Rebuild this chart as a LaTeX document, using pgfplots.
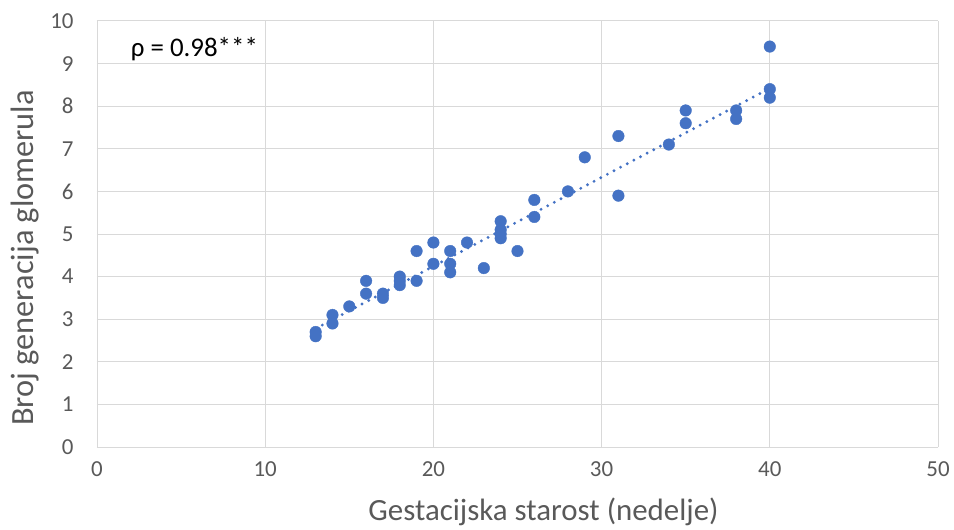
\documentclass[border=0pt]{standalone}
\usepackage{pgfplots}
\pgfplotsset{compat=1.18}
\usepackage{fontspec}
\setmainfont{Carlito}
\definecolor{ptblue}{RGB}{68,114,196}
\definecolor{gridgray}{RGB}{217,217,217}
\definecolor{txtgray}{RGB}{89,89,89}
\begin{document}
\begin{tikzpicture}
\begin{axis}[
  at={(0,0)}, anchor=south west,
  scale only axis,
  width=841bp, height=426bp,
  xmin=0, xmax=50, ymin=0, ymax=10,
  xtick={0,10,...,50}, ytick={0,1,...,10},
  grid=major,
  major grid style={gridgray, line width=1pt},
  axis line style={gridgray, line width=1pt},
  axis x line*=bottom, axis y line*=left,
  tick style={draw=none},
  /pgf/number format/assume math mode=true,
  ticklabel style={font=\fontsize{23}{25}\selectfont, text=txtgray},
  xticklabel style={yshift=-11bp},
  yticklabel style={xshift=-20bp},
  xlabel={Gestacijska starost (nedelje)},
  ylabel={Broj generacija glomerula},
  xlabel style={font=\fontsize{31}{33}\selectfont, text=txtgray, yshift=-15bp, xshift=26bp},
  ylabel style={font=\fontsize{32.5}{34}\selectfont, text=txtgray, yshift=4bp, xshift=-24bp},
  clip=false,
]
\addplot[only marks, mark=*, mark size=5.8bp, ptblue] coordinates {
(13,2.6) (13,2.7)
(14,2.9) (14,3.1)
(15,3.3)
(16,3.6) (16,3.9)
(17,3.5) (17,3.6)
(18,3.8) (18,3.9) (18,4.0)
(19,3.9) (19,4.6)
(20,4.3) (20,4.8)
(21,4.1) (21,4.3) (21,4.6)
(22,4.8)
(23,4.2)
(24,4.9) (24,5.0) (24,5.1) (24,5.3)
(25,4.6)
(26,5.4) (26,5.8)
(28,6.0)
(29,6.8)
(31,5.9) (31,7.3)
(34,7.1)
(35,7.6) (35,7.9)
(38,7.7) (38,7.9)
(40,8.2) (40,8.4) (40,9.4)
};
\addplot[ptblue, line width=3.2bp, dash pattern=on 0pt off 7.5bp, line cap=round] coordinates {(13,2.78) (40,8.42)};
\node[anchor=west, font=\fontsize{27}{29}\selectfont, text=black] at (axis cs:1.8,9.35) {ρ = 0.98***};
\end{axis}
\useasboundingbox (-97bp,-82bp) rectangle (857bp,447bp);
\end{tikzpicture}
\end{document}
